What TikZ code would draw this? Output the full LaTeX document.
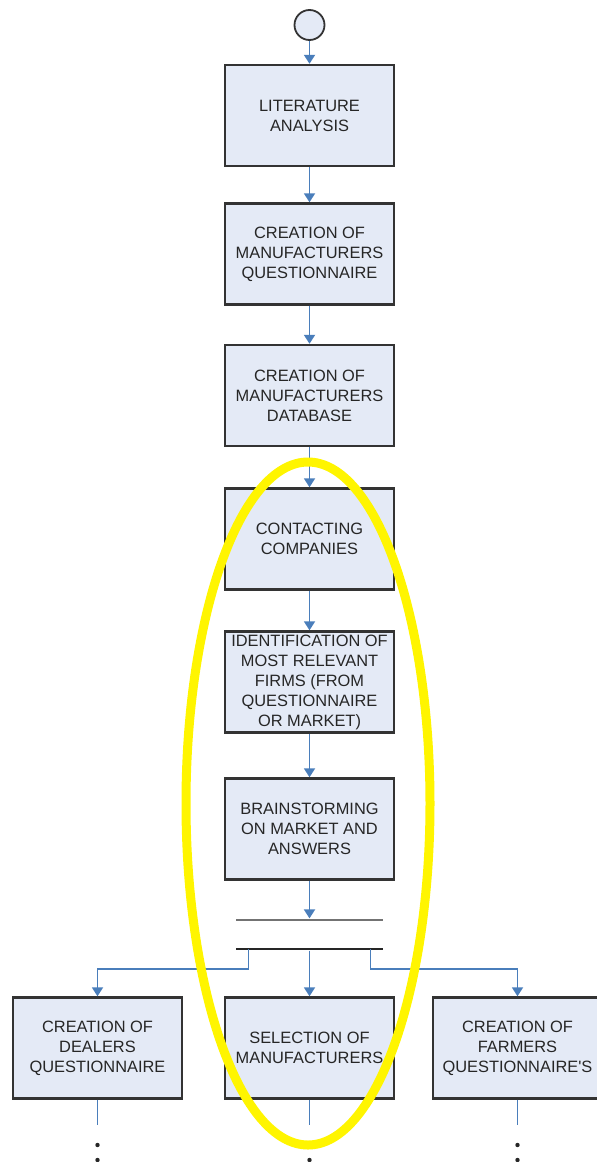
\documentclass[tikz,border=0pt]{standalone}
\usepackage{fontspec}
\setmainfont{Liberation Sans}
\usetikzlibrary{arrows.meta}

\definecolor{boxfill}{RGB}{228,234,246}
\definecolor{flowblue}{RGB}{74,126,187}
\definecolor{markyellow}{RGB}{255,245,0}

\tikzset{
  stage/.style={draw=black!80, line width=1.2pt, fill=boxfill,
    minimum width=84.5pt, minimum height=50.5pt, inner sep=1pt,
    align=center, text=black!85, font=\fontsize{8.2}{10}\selectfont},
  start/.style={circle, draw=black!80, line width=0.9pt, fill=boxfill,
    minimum size=15pt, inner sep=0pt},
  bar/.style={inner sep=0pt, minimum width=73.5pt, minimum height=1.2pt},
  flow/.style={draw=flowblue, line width=0.9pt, -{Triangle[length=4.5pt,width=5.5pt]}},
  link/.style={draw=flowblue, line width=0.9pt},
}

\begin{document}
\begin{tikzpicture}[x=0.5pt,y=-0.5pt]
  \useasboundingbox (0,0) rectangle (597,1162);

  % start
  \node[start] (start) at (309.5,25) {};

  % main column
  \node[stage] (lit) at (309.5,115.5) {LITERATURE\\ANALYSIS};
  \node[stage] (mquest) at (309.5,254) {CREATION OF\\MANUFACTURERS\\QUESTIONNAIRE};
  \node[stage] (mdb) at (309.5,395.5) {CREATION OF\\MANUFACTURERS\\DATABASE};
  \node[stage] (contact) at (309.5,539) {CONTACTING\\COMPANIES};
  \node[stage] (ident) at (309.5,682) {IDENTIFICATION OF\\MOST RELEVANT\\FIRMS (FROM\\QUESTIONNAIRE\\OR MARKET)};
  \node[stage] (brain) at (309.5,829) {BRAINSTORMING\\ON MARKET AND\\ANSWERS};

  % join and fork bars
  \node[bar, fill=black!55] (join) at (309.5,920) {};
  \node[bar, fill=black!85] (fork) at (309.5,949) {};
  \coordinate (forkL) at (248.5,949);
  \coordinate (forkR) at (370.5,949);

  % bottom row
  \node[stage] (dealers) at (97.5,1048) {CREATION OF\\DEALERS\\QUESTIONNAIRE};
  \node[stage] (select) at (309.5,1048) {SELECTION OF\\MANUFACTURERS};
  \node[stage] (farmers) at (517.5,1048) {CREATION OF\\FARMERS\\QUESTIONNAIRE\textquotesingle S};

  % arrows down the column
  \foreach \a/\b in {start/lit, lit/mquest, mquest/mdb, mdb/contact,
                     contact/ident, ident/brain, brain/join}
    \draw[flow] (\a) -- (\b);

  % branches
  \draw[flow] (forkL) -- ++(0,20) -| (dealers.north);
  \draw[flow] (fork) -- (select);
  \draw[flow] (forkR) -- ++(0,20) -| (farmers.north);

  % lines running on below
  \foreach \n in {dealers, select, farmers}
    \draw[link] (\n.south) -- ++(0,25);
  \foreach \x in {97.5,309.5,517.5}
    \foreach \y in {1145,1160}
      \fill[black!85] (\x,\y) circle (1.1pt);

  % highlight ring
  \draw[markyellow, line width=4.5pt] (308,803.5) ellipse [x radius=61pt, y radius=170.75pt];
\end{tikzpicture}
\end{document}
